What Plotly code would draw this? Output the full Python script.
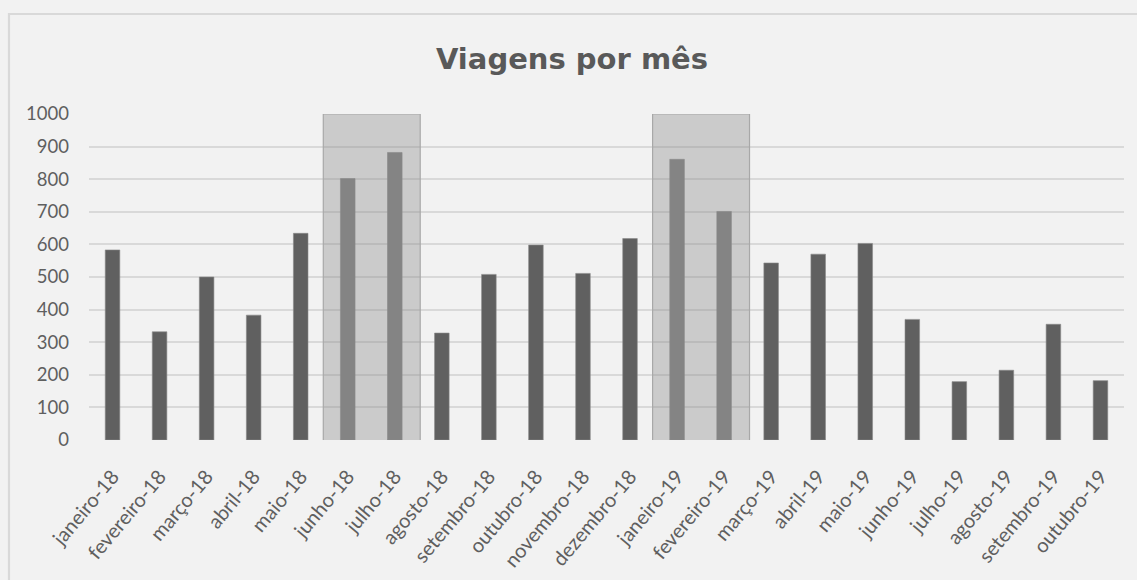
import plotly.graph_objects as go

categories = ["janeiro-18", "fevereiro-18", "março-18", "abril-18", "maio-18", "junho-18",
              "julho-18", "agosto-18", "setembro-18", "outubro-18", "novembro-18", "dezembro-18",
              "janeiro-19", "fevereiro-19", "março-19", "abril-19", "maio-19", "junho-19",
              "julho-19", "agosto-19", "setembro-19", "outubro-19"]
viagens = [583, 332, 500, 383, 634, 802, 882, 328, 508, 598, 511, 618,
           861, 701, 543, 570, 603, 370, 179, 214, 355, 182]
destaques = ["junho-18", "julho-18", "janeiro-19", "fevereiro-19"]
y_ticks = [0, 100, 200, 300, 400, 500, 600, 700, 800, 900, 1000]

colors = ["#848484" if c in destaques else "#606060" for c in categories]

fig = go.Figure()
fig.add_trace(go.Bar(
    x=categories, y=viagens,
    marker=dict(color=colors, line=dict(color="#8a8a8a", width=0.6)),
    width=0.31,
))

# highlighted periods
groups = [("junho-18", "julho-18"), ("janeiro-19", "fevereiro-19")]
for a, b in groups:
    i0 = categories.index(a)
    i1 = categories.index(b)
    fig.add_shape(type="rect", xref="x", yref="y",
                  x0=i0 - 0.52, x1=i1 + 0.54, y0=-3, y1=1000,
                  fillcolor="rgba(128,128,128,0.34)",
                  line=dict(color="#a8a8a8", width=1.2),
                  layer="between")

# outer chart border
fig.add_shape(type="rect", xref="paper", yref="paper",
              x0=-0.0773, x1=1.2, y0=-0.6, y1=1.3067,
              line=dict(color="#d9d9d9", width=2.2), fillcolor="rgba(0,0,0,0)",
              layer="below")

fig.update_layout(
    width=1137, height=580,
    margin=dict(l=89, r=13, t=114, b=140, autoexpand=False),
    paper_bgcolor="#f2f2f2", plot_bgcolor="#f2f2f2",
    title=dict(text="<b>Viagens por mês</b>", x=572 / 1137, xref="container", xanchor="center",
               y=1 - 59 / 580, yref="container", yanchor="middle",
               font=dict(family="DejaVu Sans", size=29, color="#595959")),
    showlegend=False,
    bargap=0.69,
    font=dict(family="Lato", color="#595959"),
)

fig.update_xaxes(
    type="category", range=[-0.5, len(categories) - 0.5],
    tickangle=-50, tickfont=dict(family="Lato", size=20, color="#5f5f5f"),
    showgrid=False, showline=False, ticks="", zeroline=False,
    ticklabelstandoff=20, automargin=False,
)
fig.update_yaxes(
    range=[0, 1000], tickvals=y_ticks, ticktext=[str(v) for v in y_ticks],
    tickfont=dict(family="Lato", size=18.5, color="#5f5f5f"),
    showgrid=True, gridcolor="#d9d9d9", gridwidth=2,
    zeroline=False, showline=False, ticks="",
    ticklabelstandoff=19, automargin=False,
)

fig.write_html(
    "out.html",
    config={"displayModeBar": False},
    post_script="document.body.style.margin='0';document.body.style.background='#f2f2f2';",
)
